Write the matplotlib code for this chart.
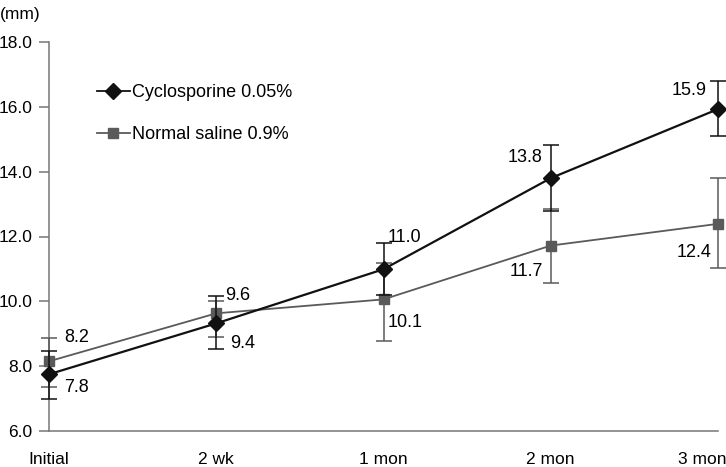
import matplotlib
matplotlib.use('Agg')
import matplotlib.pyplot as plt
import matplotlib.transforms as mtransforms
from matplotlib.lines import Line2D

plt.rcParams['font.family'] = ['Liberation Sans', 'DejaVu Sans']

timepoints = ['Initial', '2 wk', '1 mon', '2 mon', '3 mon']

# means as plotted, and error bar ends
cyclo_mean = [7.75, 9.32, 10.99, 13.80, 15.93]
cyclo_low = [6.99, 8.53, 10.19, 12.80, 15.10]
cyclo_high = [8.47, 10.17, 11.79, 14.83, 16.81]
cyclo_labels = ['7.8', '9.4', '11.0', '13.8', '15.9']

saline_mean = [8.15, 9.63, 10.06, 11.72, 12.39]
saline_low = [7.35, 8.89, 8.79, 10.56, 11.04]
saline_high = [8.87, 10.00, 11.18, 12.86, 13.80]
saline_labels = ['8.2', '9.6', '10.1', '11.7', '12.4']

# label offsets in pixels (dx, dy, ha)
cyclo_off = [(15, -13, 'left'), (14, -20, 'left'), (4, 32, 'left'), (-8, 21, 'right'), (-11, 19, 'right')]
saline_off = [(15, 24, 'left'), (9, 18, 'left'), (4, -23, 'left'), (-8, -26, 'right'), (-7, -29, 'right')]

fig = plt.figure(figsize=(7.26, 4.67), dpi=100)
ax = fig.add_axes([49/726, 1 - 431/467, (718 - 49)/726, (431 - 42)/467])

x = list(range(len(timepoints)))

c_col = '#111111'
s_col = '#5a5a5a'

def draw(mean, low, high, color, marker, ms, lw, z):
    yerr = [[m - l for m, l in zip(mean, low)], [h - m for m, h in zip(mean, high)]]
    ax.errorbar(x, mean, yerr=yerr, fmt='none', ecolor=color, elinewidth=1.1,
                capsize=6, capthick=1.1, clip_on=False, zorder=z)
    ax.plot(x, mean, color=color, lw=lw, marker=marker, ms=ms, clip_on=False, zorder=z + 1)

draw(saline_mean, saline_low, saline_high, s_col, 's', 7.5, 1.3, 3)
draw(cyclo_mean, cyclo_low, cyclo_high, c_col, 'D', 8, 1.6, 5)

px = 72 / fig.dpi
for xi, m, t, (dx, dy, ha) in zip(x, cyclo_mean, cyclo_labels, cyclo_off):
    ax.annotate(t, (xi, m), xytext=(dx * px, dy * px), textcoords='offset points',
                ha=ha, va='center', fontsize=13, color='black')
for xi, m, t, (dx, dy, ha) in zip(x, saline_mean, saline_labels, saline_off):
    ax.annotate(t, (xi, m), xytext=(dx * px, dy * px), textcoords='offset points',
                ha=ha, va='center', fontsize=13, color='black')

ax.set_xlim(0, 4)
ax.set_ylim(6, 18)
ax.set_yticks([6, 8, 10, 12, 14, 16, 18])
ax.set_yticklabels(['6.0', '8.0', '10.0', '12.0', '14.0', '16.0', '18.0'])
ax.set_xticks(x)
ax.set_xticklabels(timepoints)

for s in ['top', 'right']:
    ax.spines[s].set_visible(False)
for s in ['left', 'bottom']:
    ax.spines[s].set_color('#777777')
    ax.spines[s].set_linewidth(1.1)

ax.tick_params(axis='y', length=7, width=1.1, color='#777777', pad=5, labelsize=12.5)
ax.tick_params(axis='x', length=0, pad=15, labelsize=12.5)

last = ax.get_xticklabels()[-1]
last.set_horizontalalignment('right')
last.set_transform(last.get_transform() + mtransforms.ScaledTranslation(8 / fig.dpi, 0, fig.dpi_scale_trans))

handles = [Line2D([], [], color=c_col, lw=1.3, marker='D', ms=8),
           Line2D([], [], color=s_col, lw=1.3, marker='s', ms=7.5)]
ax.legend(handles, ['Cyclosporine 0.05%', 'Normal saline 0.9%'], loc='upper left',
          bbox_to_anchor=(0.0475, 0.934), frameon=False, fontsize=13,
          handlelength=1.8, handletextpad=0.15, labelspacing=1.4)

fig.text(0, 1 - 14/467, '(mm)', fontsize=12.5, va='center', ha='left')

fig.savefig('out.png', dpi=100)
